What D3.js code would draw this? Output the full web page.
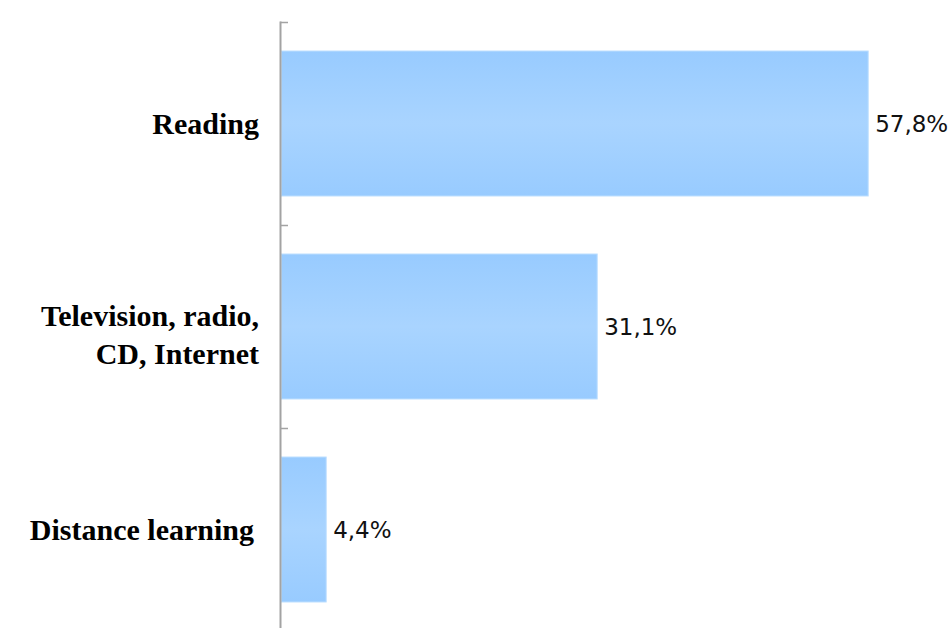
<!DOCTYPE html>
<html>
<head>
<meta charset="utf-8">
<script src="https://cdn.jsdelivr.net/npm/d3@7"></script>
<style>
  html, body { margin: 0; padding: 0; background: #ffffff; }
  svg { display: block; }
</style>
</head>
<body>
<svg id="chart" width="952" height="628"></svg>
<script>
// Categories (top to bottom), their line-broken labels and shares in percent
const categories = ["Reading", "Television, radio, CD, Internet", "Distance learning"];
const labelLines = [["Reading"], ["Television, radio,", "CD, Internet"], ["Distance learning"]];
const values = [57.8, 31.1, 4.4];
const valueLabels = ["57,8%", "31,1%", "4,4%"];

const svg = d3.select("#chart");
const W = 952, H = 628;

const x = d3.scaleLinear().domain([0, 60]).range([281.5, 890.5]);
const y = d3.scaleBand().domain(categories).range([22, 631])
  .paddingInner(0.286).paddingOuter(0.143);

// soft vertical sheen on the bars
const defs = svg.append("defs");
const grad = defs.append("linearGradient").attr("id", "barFill")
  .attr("x1", 0).attr("y1", 0).attr("x2", 0).attr("y2", 1);
grad.append("stop").attr("offset", "0%").attr("stop-color", "#98cbff");
grad.append("stop").attr("offset", "50%").attr("stop-color", "#a9d4ff");
grad.append("stop").attr("offset", "100%").attr("stop-color", "#98cbff");

svg.append("rect").attr("width", W).attr("height", H).attr("fill", "#ffffff");

// bars
svg.append("g").selectAll("rect").data(categories).join("rect")
  .attr("x", x(0))
  .attr("y", d => y(d))
  .attr("width", (d, i) => x(values[i]) - x(0))
  .attr("height", y.bandwidth())
  .attr("fill", "url(#barFill)")
  .attr("stroke", "#b9ddff")
  .attr("stroke-width", 1);

// category axis with ticks at band boundaries
const step = y.step();
const boundaries = categories.map(c => y(c) - step * y.paddingInner() / 2);
boundaries.push(boundaries[boundaries.length - 1] + step);
const axis = svg.append("g").attr("stroke", "#a3a3a3").attr("fill", "none");
axis.append("line").attr("x1", 280.5).attr("x2", 280.5)
  .attr("y1", boundaries[0] - 0.5).attr("y2", boundaries[boundaries.length - 1])
  .attr("stroke-width", 2);
axis.selectAll("line.tick").data(boundaries).join("line").attr("class", "tick")
  .attr("x1", 280).attr("x2", 288)
  .attr("y1", d => Math.round(d) + 0.5).attr("y2", d => Math.round(d) + 0.5)
  .attr("stroke-width", 1.5);

// category labels
const lineGap = 38;
svg.append("g").selectAll("text").data(categories).join("text")
  .attr("text-anchor", "end")
  .attr("font-family", "'Liberation Serif', 'Times New Roman', serif")
  .attr("font-weight", "bold")
  .attr("font-size", 30)
  .attr("fill", "#000")
  .each(function (d, i) {
    const lines = labelLines[i];
    const cy = y(d) + y.bandwidth() / 2 + 10;
    const top = cy - (lines.length - 1) * lineGap / 2 + (lines.length > 1 ? 8 : 0);
    d3.select(this).selectAll("tspan").data(lines).join("tspan")
      .attr("x", i === 2 ? 254 : 259)
      .attr("y", (l, j) => top + j * lineGap)
      .text(l => l);
  });

// value labels
svg.append("g").selectAll("text").data(categories).join("text")
  .attr("x", (d, i) => x(values[i]) + 7)
  .attr("y", d => y(d) + y.bandwidth() / 2 + 8.5)
  .attr("font-family", "'DejaVu Sans', Verdana, sans-serif")
  .attr("font-size", 23)
  .attr("fill", "#111")
  .text((d, i) => valueLabels[i]);
</script>
</body>
</html>
